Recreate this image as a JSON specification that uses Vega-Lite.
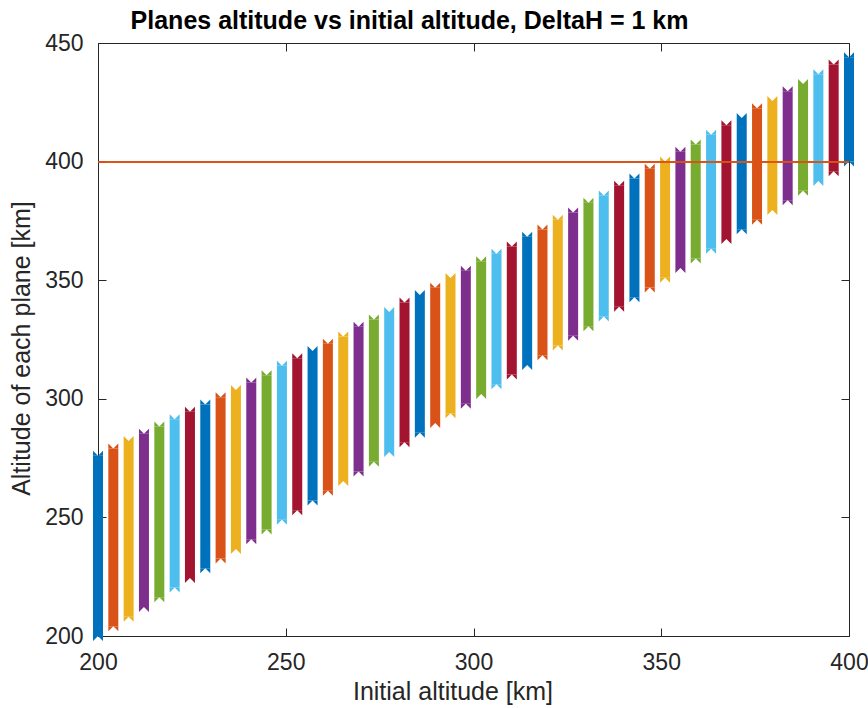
{
  "$schema": "https://vega.github.io/schema/vega-lite/v6.json",
  "width": 751,
  "height": 593,
  "autosize": {"type": "none"},
  "padding": {"left": 98, "top": 43, "right": 19, "bottom": 72},
  "background": "white",
  "config": {
    "view": {"stroke": "#262626", "strokeWidth": 1},
    "font": "Liberation Sans",
    "axis": {
      "labelFont": "Liberation Sans",
      "titleFont": "Liberation Sans",
      "labelColor": "#262626",
      "titleColor": "#262626",
      "tickColor": "#262626",
      "grid": false,
      "domain": false
    }
  },
  "title": {
    "text": "Planes altitude vs initial altitude, DeltaH = 1 km",
    "font": "Liberation Sans",
    "fontSize": 25,
    "fontWeight": "bold",
    "color": "#000000",
    "anchor": "middle",
    "frame": "group",
    "dx": -64,
    "offset": -2
  },
  "data": {
    "values": [
      {"h0": 200.00, "top": 276.00, "slot": 1},
      {"h0": 204.08, "top": 279.08, "slot": 2},
      {"h0": 208.16, "top": 282.16, "slot": 3},
      {"h0": 212.24, "top": 285.24, "slot": 4},
      {"h0": 216.33, "top": 288.33, "slot": 5},
      {"h0": 220.41, "top": 291.41, "slot": 6},
      {"h0": 224.49, "top": 294.49, "slot": 7},
      {"h0": 228.57, "top": 297.57, "slot": 1},
      {"h0": 232.65, "top": 300.65, "slot": 2},
      {"h0": 236.73, "top": 303.73, "slot": 3},
      {"h0": 240.82, "top": 306.82, "slot": 4},
      {"h0": 244.90, "top": 309.90, "slot": 5},
      {"h0": 248.98, "top": 313.98, "slot": 6},
      {"h0": 253.06, "top": 317.06, "slot": 7},
      {"h0": 257.14, "top": 320.14, "slot": 1},
      {"h0": 261.22, "top": 323.22, "slot": 2},
      {"h0": 265.31, "top": 326.31, "slot": 3},
      {"h0": 269.39, "top": 330.39, "slot": 4},
      {"h0": 273.47, "top": 333.47, "slot": 5},
      {"h0": 277.55, "top": 336.55, "slot": 6},
      {"h0": 281.63, "top": 340.63, "slot": 7},
      {"h0": 285.71, "top": 343.71, "slot": 1},
      {"h0": 289.80, "top": 346.80, "slot": 2},
      {"h0": 293.88, "top": 350.88, "slot": 3},
      {"h0": 297.96, "top": 353.96, "slot": 4},
      {"h0": 302.04, "top": 358.04, "slot": 5},
      {"h0": 306.12, "top": 361.12, "slot": 6},
      {"h0": 310.20, "top": 364.20, "slot": 7},
      {"h0": 314.29, "top": 368.29, "slot": 1},
      {"h0": 318.37, "top": 371.37, "slot": 2},
      {"h0": 322.45, "top": 375.45, "slot": 3},
      {"h0": 326.53, "top": 378.53, "slot": 4},
      {"h0": 330.61, "top": 382.61, "slot": 5},
      {"h0": 334.69, "top": 385.69, "slot": 6},
      {"h0": 338.78, "top": 389.78, "slot": 7},
      {"h0": 342.86, "top": 392.86, "slot": 1},
      {"h0": 346.94, "top": 396.94, "slot": 2},
      {"h0": 351.02, "top": 400.02, "slot": 3},
      {"h0": 355.10, "top": 404.10, "slot": 4},
      {"h0": 359.18, "top": 407.18, "slot": 5},
      {"h0": 363.27, "top": 411.27, "slot": 6},
      {"h0": 367.35, "top": 415.35, "slot": 7},
      {"h0": 371.43, "top": 418.43, "slot": 1},
      {"h0": 375.51, "top": 422.51, "slot": 2},
      {"h0": 379.59, "top": 425.59, "slot": 3},
      {"h0": 383.67, "top": 429.67, "slot": 4},
      {"h0": 387.76, "top": 432.76, "slot": 5},
      {"h0": 391.84, "top": 436.84, "slot": 6},
      {"h0": 395.92, "top": 440.92, "slot": 7},
      {"h0": 400.00, "top": 444.00, "slot": 1}
    ]
  },
  "layer": [
    {
      "mark": {"type": "rule", "strokeWidth": 10, "strokeCap": "butt"},
      "encoding": {
        "x": {
          "field": "h0",
          "type": "quantitative",
          "scale": {"domain": [200, 400], "nice": false, "zero": false},
          "axis": {
            "orient": "bottom",
            "values": [200, 250, 300, 350, 400],
            "ticks": false,
            "labelFontSize": 23,
            "labelPadding": 15,
            "labelFlush": false,
            "labelOverlap": false,
            "title": "Initial altitude [km]",
            "titleFontSize": 25,
            "titleFontWeight": "normal",
            "titlePadding": 5,
            "titleX": 354.5
          }
        },
        "y": {
          "field": "h0",
          "type": "quantitative",
          "scale": {"domain": [200, 450], "nice": false, "zero": false},
          "axis": {
            "orient": "left",
            "values": [200, 250, 300, 350, 400, 450],
            "ticks": false,
            "labelFontSize": 23,
            "labelPadding": 15,
            "labelFlush": false,
            "labelOverlap": false,
            "title": "Altitude of each plane [km]",
            "titleFontSize": 25,
            "titleFontWeight": "normal",
            "titlePadding": 10,
            "titleY": 305
          }
        },
        "y2": {"field": "top"},
        "color": {
          "field": "slot",
          "type": "nominal",
          "scale": {
            "domain": [1, 2, 3, 4, 5, 6, 7],
            "range": ["#0072BD", "#D95319", "#EDB120", "#7E2F8E", "#77AC30", "#4DBEEE", "#A2142F"]
          },
          "legend": null
        }
      }
    },
    {
      "mark": {"type": "point", "shape": "M-1,0L-1,-1L0,0L1,-1L1,0Z", "filled": true, "size": 100, "opacity": 1, "strokeWidth": 0},
      "encoding": {
        "x": {
          "field": "h0",
          "type": "quantitative",
          "axis": {"orient": "top", "values": [200, 250, 300, 350, 400], "labels": false, "tickSize": -8, "tickWidth": 1, "title": null}
        },
        "y": {
          "field": "top",
          "type": "quantitative",
          "axis": {"orient": "right", "values": [200, 250, 300, 350, 400, 450], "labels": false, "tickSize": -8, "tickWidth": 1, "title": null}
        },
        "color": {"field": "slot", "type": "nominal", "legend": null}
      }
    },
    {
      "mark": {"type": "point", "shape": "M-1,0L-1,1L0,0L1,1L1,0Z", "filled": true, "size": 100, "opacity": 1, "strokeWidth": 0},
      "encoding": {
        "x": {
          "field": "h0",
          "type": "quantitative",
          "axis": {"orient": "bottom", "values": [200, 250, 300, 350, 400], "labels": false, "tickSize": -8, "tickWidth": 1, "title": null}
        },
        "y": {
          "field": "h0",
          "type": "quantitative",
          "axis": {"orient": "left", "values": [200, 250, 300, 350, 400, 450], "labels": false, "tickSize": -8, "tickWidth": 1, "title": null}
        },
        "color": {"field": "slot", "type": "nominal", "legend": null}
      }
    },
    {
      "mark": {"type": "rule", "color": "#D95319", "strokeWidth": 1},
      "encoding": {
        "y": {"datum": 400, "type": "quantitative", "axis": null}
      }
    }
  ],
  "resolve": {"axis": {"x": "independent", "y": "independent"}}
}
